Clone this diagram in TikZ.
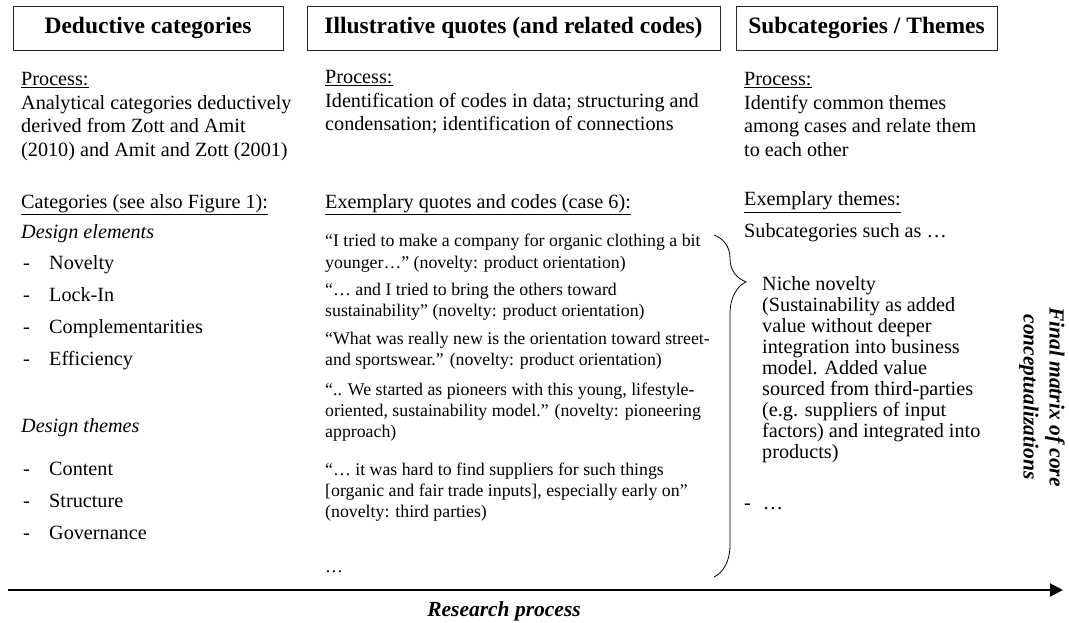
\documentclass[tikz,border=0pt]{standalone}
\usepackage{fontspec}
\setmainfont{Liberation Serif}
\usetikzlibrary{arrows.meta,decorations.pathreplacing}

\newcommand{\bodysize}{\fontsize{20.2}{23.5}\selectfont}
\newcommand{\quotesize}{\fontsize{17.8}{21}\selectfont}
\newcommand{\headsize}{\fontsize{23.5}{26}\selectfont\bfseries}
\newcommand{\dashitem}[1]{\makebox[26pt][l]{-}#1}

\begin{document}
\begin{tikzpicture}[x=1pt,y=-1pt,
  head/.style={draw=black!85,line width=0.8pt,minimum height=44pt,font=\headsize,inner sep=0pt},
  txt/.style={anchor=base west,align=left,inner sep=0pt,font=\bodysize},
  quote/.style={txt,font=\quotesize}]
\useasboundingbox (0,0) rectangle (1069,623);
\node[head,minimum width=270pt] (deductive) at (148,28) {Deductive categories};
\node[head,minimum width=413pt] (illustrative) at (513.5,28) {Illustrative quotes (and related codes)};
\node[head,minimum width=261pt] (themes) at (866.5,28) {Subcategories / Themes};

% base of a block = base of its last line
\node[txt] (procleft) at (21,156.5) {\underline{Process:}\\Analytical categories deductively\\derived from Zott and Amit\\(2010) and Amit and Zott (2001)};
\node[txt] (catleft) at (21,208) {\underline{Categories (see also Figure 1):}};
\node[txt] (elements) at (21,238) {\textit{Design elements}};
\foreach \elem [count=\i] in {Novelty,Lock-In,Complementarities,Efficiency}
  \node[txt] (elem\i) at (23,269+32*\i-32) {\dashitem{\elem}};
\node[txt] (designthemes) at (21,432) {\textit{Design themes}};
\foreach \theme [count=\i] in {Content,Structure,Governance}
  \node[txt] (theme\i) at (23,475+32*\i-32) {\dashitem{\theme}};

\node[txt] (procmid) at (325,131) {\underline{Process:}\\Identification of codes in data; structuring and\\condensation; identification of connections};
\node[txt] (exquotes) at (325,208) {\underline{Exemplary quotes and codes (case 6):}};
\node[quote] (quote1) at (325,268) {“I tried to make a company for organic clothing a bit\\younger…” (novelty: product orientation)};
\node[quote] (quote2) at (325,316) {“… and I tried to bring the others toward\\sustainability” (novelty: product orientation)};
\node[quote] (quote3) at (325,365) {“What was really new is the orientation toward street-\\and sportswear.” (novelty: product orientation)};
\node[quote] (quote4) at (325,437) {“.. We started as pioneers with this young, lifestyle-\\oriented, sustainability model.” (novelty: pioneering\\approach)};
\node[quote] (quote5) at (325,517) {“… it was hard to find suppliers for such things\\[0pt][organic and fair trade inputs], especially early on”\\(novelty: third parties)};
\node[quote] (morequotes) at (325,572) {…};

\node[txt] (procright) at (744,156.5) {\underline{Process:}\\Identify common themes\\among cases and relate them\\to each other};
\node[txt] (exthemes) at (744,206) {\underline{Exemplary themes:}};
\node[txt] (subcat) at (744,237) {Subcategories such as …};
\node[txt,font=\fontsize{20.2}{20.9}\selectfont] (niche) at (762,458) {Niche novelty\\(Sustainability as added\\value without deeper\\integration into business\\model. Added value\\sourced from third-parties\\(e.g. suppliers of input\\factors) and integrated into\\products)};
\node[txt] (morethemes) at (744,509) {-\hspace{12pt}…};

\coordinate (bracetop) at (714,235);
\coordinate (bracebot) at (714,577);
\draw[line width=0.8pt,decorate,decoration={brace,amplitude=32pt,aspect=0.137}] (bracetop) -- (bracebot);

\node[rotate=-90,align=center,font=\fontsize{21.5}{26}\selectfont\bfseries\itshape] (finalmatrix) at (1042,397) {Final matrix of core\\conceptualizations};

\coordinate (arrowstart) at (8,590);
\coordinate (arrowend) at (1063,590);
\draw[line width=2pt,-{Triangle[length=13pt,width=13pt]}] (arrowstart) -- (arrowend);
\node[font=\fontsize{21.5}{26}\selectfont\bfseries\itshape] (research) at (504,611) {Research process};
\end{tikzpicture}
\end{document}
